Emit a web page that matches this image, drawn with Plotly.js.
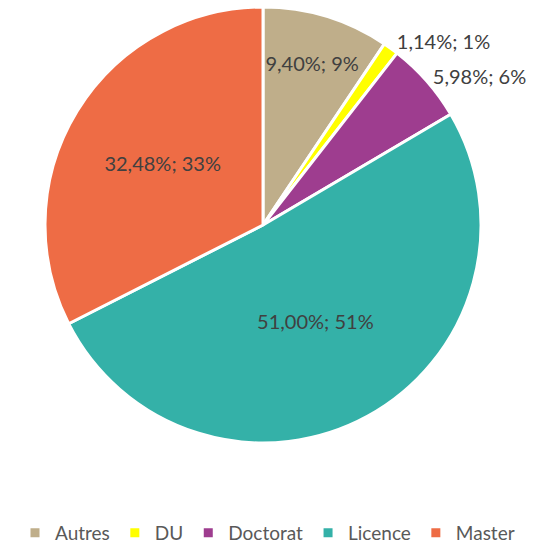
<!DOCTYPE html>
<html>
<head>
<meta charset="utf-8">
<script src="https://cdn.plot.ly/plotly-3.0.1.min.js"></script>
<style>html,body{margin:0;padding:0;background:#fff;}#chart{width:535px;height:543px;}</style>
</head>
<body>
<div id="chart"></div>
<script>
const categories = ["Autres", "DU", "Doctorat", "Licence", "Master"];
const values = [9.40, 1.14, 5.98, 51.00, 32.48];
const roundedPercents = [9, 1, 6, 51, 33];
const colors = ["#BFAE8A", "#FFFF00", "#9E3D8F", "#34B1A8", "#EE6C45"];
const labelPositions = ["inside", "outside", "outside", "inside", "inside"];

const labelTexts = values.map((v, i) => v.toFixed(2).replace(".", ",") + "%; " + roundedPercents[i] + "%");

const FONT = "Lato, 'Open Sans', sans-serif";

const trace = {
  type: "pie",
  labels: categories,
  values: values,
  text: labelTexts,
  textinfo: "text",
  textposition: labelPositions,
  insidetextorientation: "horizontal",
  sort: false,
  direction: "clockwise",
  rotation: 0,
  domain: {x: [0.0841, 0.8991], y: [0, 1]},
  marker: {colors: colors, line: {color: "#FFFFFF", width: 3}},
  textfont: {family: FONT, size: 20, color: "#404040"},
  outsidetextfont: {family: FONT, size: 20, color: "#404040"},
  insidetextfont: {family: FONT, size: 20, color: "#404040"},
  hoverinfo: "label+percent",
  automargin: false
};

const layout = {
  width: 535,
  height: 543,
  margin: {l: 0, r: 0, t: 7, b: 100, autoexpand: false},
  paper_bgcolor: "#FFFFFF",
  showlegend: true,
  legend: {
    orientation: "h",
    x: 0.5, xanchor: "center",
    y: -0.206, yanchor: "middle",
    font: {family: FONT, size: 19, color: "#595959"},
    itemwidth: 30,
    tracegroupgap: 0,
    traceorder: "normal"
  },
  separators: ",."
};

Plotly.newPlot("chart", [trace], layout, {displayModeBar: false, staticPlot: true});
</script>
</body>
</html>
